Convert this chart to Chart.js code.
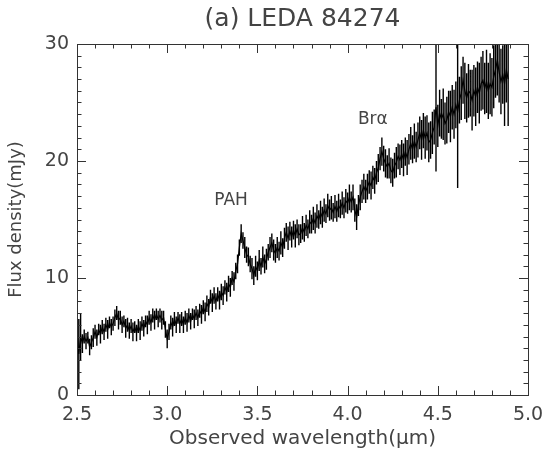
<!DOCTYPE html>
<html>
<head>
<meta charset="utf-8">
<script src="https://cdn.jsdelivr.net/npm/chart.js@4.4.1/dist/chart.umd.min.js"></script>
<style>
  html,body{margin:0;padding:0;background:#fff;}
  #wrap{width:545px;height:455px;}
</style>
</head>
<body>
<div id="wrap"><canvas id="c" width="545" height="455"></canvas></div>
<script>
// ---- data ----
const wavelengthStart = 2.50;   // first sample (micron)
const wavelengthStep = 0.01;    // sample spacing (micron)
const flux = [
  5.5, 3.5, 5.0, 4.4, 5.0, 4.6, 4.9, 4.1, 4.5, 4.9,
  5.4, 4.9, 5.6, 5.2, 5.8, 5.4, 6.0, 5.6, 6.2, 5.8,
  6.1, 6.6, 7.0, 6.4, 6.6, 6.0, 6.3, 5.7, 6.0, 5.5,
  5.9, 5.4, 5.8, 5.3, 5.9, 5.5, 6.1, 5.7, 6.3, 6.0,
  6.6, 6.2, 6.8, 6.4, 6.9, 6.5, 6.8, 6.4, 6.6, 5.6,
  4.8, 5.4, 6.2, 5.8, 6.5, 6.0, 6.6, 6.1, 6.5, 6.0,
  6.6, 6.2, 6.8, 6.3, 6.9, 6.5, 7.0, 6.6, 7.2, 6.9,
  7.5, 7.1, 7.8, 7.5, 8.4, 7.9, 8.5, 8.0, 8.6, 8.1,
  8.8, 8.5, 9.2, 8.8, 9.5, 9.2, 10.0, 9.7, 10.6, 11.2,
  12.6, 13.8, 13.2, 12.6, 12.0, 11.8, 11.2, 10.8, 10.2, 11.0,
  10.6, 11.5, 11.0, 11.8, 11.2, 11.6, 12.2, 12.6, 13.0, 12.4,
  12.1, 12.6, 12.3, 13.0, 12.6, 13.4, 13.9, 13.4, 14.0, 13.5,
  14.1, 13.6, 14.2, 13.7, 13.8, 14.3, 13.9, 14.5, 14.2, 14.8,
  14.6, 15.1, 14.7, 15.3, 15.0, 15.6, 15.2, 15.8, 15.5, 16.2,
  15.8, 16.0, 15.6, 16.1, 15.7, 16.2, 15.9, 16.4, 16.0, 16.6,
  16.4, 16.9, 16.5, 16.9, 15.8, 15.2, 16.2, 16.9, 17.4, 17.8,
  17.4, 17.8, 18.2, 17.9, 18.6, 18.3, 19.0, 19.4, 20.2, 20.8,
  20.2, 19.8, 19.5, 19.8, 19.2, 19.0, 19.6, 19.9, 20.4, 20.1,
  20.6, 20.1, 20.8, 20.3, 21.0, 21.5, 21.0, 21.7, 21.2, 21.8,
  22.4, 21.8, 22.6, 22.0, 22.4, 21.6, 21.8, 22.4, 22.9, 24.6,
  23.0, 24.1, 23.6, 24.0, 23.2, 23.5, 24.2, 23.8, 24.6, 24.0,
  24.8, 24.2, 25.2, 25.8, 26.9, 26.0, 25.4, 26.0, 25.8, 25.2,
  26.0, 25.5, 26.3, 25.8, 26.6, 26.9, 26.2, 26.8, 26.0, 26.6,
  26.3, 27.2, 27.8, 28.6, 27.6, 26.8, 27.4, 26.6, 27.8, 27.0
];
const fluxErr = [
  6.0, 3.0, 2.0, 0.8, 0.6, 0.7, 0.5, 0.7, 0.6, 0.8,
  0.6, 0.7, 0.5, 0.8, 0.6, 0.7, 0.6, 0.8, 0.5, 0.7,
  0.6, 0.7, 0.6, 0.8, 0.6, 0.7, 0.5, 0.8, 0.6, 0.7,
  0.6, 0.8, 0.5, 0.7, 0.6, 0.8, 0.6, 0.7, 0.5, 0.8,
  0.6, 0.7, 0.6, 0.8, 0.5, 0.7, 0.6, 0.8, 0.6, 0.7,
  0.8, 0.7, 0.6, 0.8, 0.6, 0.7, 0.5, 0.8, 0.6, 0.7,
  0.6, 0.8, 0.6, 0.7, 0.5, 0.8, 0.6, 0.7, 0.6, 0.8,
  0.6, 0.8, 0.7, 0.7, 0.6, 0.8, 0.7, 0.7, 0.6, 0.8,
  0.7, 0.8, 0.6, 0.8, 0.7, 0.8, 0.6, 0.8, 0.7, 0.8,
  0.7, 0.8, 0.7, 0.9, 0.7, 0.8, 0.7, 0.9, 0.8, 0.9,
  0.8, 0.9, 0.7, 0.9, 0.8, 0.9, 0.7, 0.9, 0.8, 0.9,
  0.8, 0.9, 0.8, 1.0, 0.8, 0.9, 0.8, 1.0, 0.8, 0.9,
  0.8, 1.0, 0.8, 0.9, 0.8, 1.0, 0.8, 0.9, 0.8, 1.0,
  0.8, 1.0, 0.9, 1.0, 0.8, 1.0, 0.9, 1.0, 0.8, 1.0,
  0.9, 1.0, 0.8, 1.0, 0.9, 1.0, 0.8, 1.0, 0.9, 1.0,
  0.9, 1.1, 0.9, 1.1, 1.0, 1.1, 0.9, 1.1, 1.0, 1.1,
  1.0, 1.1, 1.0, 1.2, 1.0, 1.1, 1.0, 1.2, 1.0, 1.2,
  1.1, 1.2, 1.0, 1.3, 1.1, 1.2, 1.1, 1.3, 1.1, 1.3,
  1.2, 1.4, 1.2, 1.5, 1.3, 1.4, 1.2, 1.5, 1.3, 1.5,
  1.4, 1.7, 1.5, 1.8, 1.5, 1.7, 1.6, 1.8, 1.5, 5.5,
  1.8, 2.0, 1.7, 2.2, 1.8, 2.0, 1.8, 2.2, 1.9, 2.1,
  2.0, 6.5, 2.0, 2.3, 2.0, 2.4, 2.1, 2.3, 2.0, 2.6,
  2.2, 2.5, 2.2, 2.6, 2.3, 2.5, 2.2, 2.7, 2.4, 2.6,
  2.5, 2.7, 2.4, 3.0, 2.6, 2.8, 2.5, 3.6, 2.8, 4.0
];
const wavelength = flux.map((_, i) => +(wavelengthStart + i * wavelengthStep).toFixed(2));
const xTickValues = [2.5, 3.0, 3.5, 4.0, 4.5, 5.0];
const yTickValues = [0, 10, 20, 30];
const featureLabels = ['PAH', 'Br\u03B1'];
const featureX = [3.354, 4.14];
const featureY = [16.6, 23.5];

// ---- plugins ----
const errorBars = {
  id: 'errorBars',
  afterDatasetsDraw(chart) {
    const {ctx, chartArea: a, scales: {x, y}} = chart;
    ctx.save();
    ctx.beginPath();
    ctx.rect(a.left, a.top, a.right - a.left, a.bottom - a.top);
    ctx.clip();
    ctx.strokeStyle = '#000';
    ctx.lineWidth = 1.4;
    ctx.beginPath();
    for (let i = 0; i < flux.length; i++) {
      const px = x.getPixelForValue(wavelength[i]);
      ctx.moveTo(px, y.getPixelForValue(flux[i] - fluxErr[i]));
      ctx.lineTo(px, y.getPixelForValue(flux[i] + fluxErr[i]));
    }
    ctx.stroke();
    ctx.restore();
  }
};

const frame = {
  id: 'frame',
  afterDraw(chart) {
    const {ctx, chartArea: a, scales: {x, y}} = chart;
    ctx.save();
    ctx.strokeStyle = '#333';
    ctx.lineWidth = 1;
    ctx.beginPath();
    for (let k = 0; k <= 25; k++) {
      const v = 2.5 + k * 0.1;
      const px = Math.round(x.getPixelForValue(v)) + 0.5;
      const len = (k % 5 === 0) ? 9 : 4.5;
      ctx.moveTo(px, a.bottom); ctx.lineTo(px, a.bottom - len);
      ctx.moveTo(px, a.top); ctx.lineTo(px, a.top + len);
    }
    for (let k = 0; k <= 30; k++) {
      const py = Math.round(y.getPixelForValue(k)) + 0.5;
      const len = (k % 10 === 0) ? 9 : 4.5;
      ctx.moveTo(a.left, py); ctx.lineTo(a.left + len, py);
      ctx.moveTo(a.right, py); ctx.lineTo(a.right - len, py);
    }
    ctx.stroke();
    ctx.strokeRect(Math.round(a.left) + 0.5, Math.round(a.top) + 0.5,
                   Math.round(a.right - a.left), Math.round(a.bottom - a.top));
    ctx.fillStyle = '#444';
    ctx.font = '17px "DejaVu Sans"';
    ctx.textAlign = 'center';
    ctx.textBaseline = 'middle';
    for (let i = 0; i < featureLabels.length; i++) {
      ctx.fillText(featureLabels[i], x.getPixelForValue(featureX[i]), y.getPixelForValue(featureY[i]));
    }
    ctx.restore();
  }
};

new Chart(document.getElementById('c'), {
  type: 'line',
  data: {
    datasets: [{
      data: wavelength.map((w, i) => ({x: w, y: flux[i]})),
      borderColor: '#000',
      borderWidth: 1.2,
      pointRadius: 0,
      tension: 0,
      fill: false
    }]
  },
  options: {
    responsive: false,
    animation: false,
    devicePixelRatio: 1,
    layout: {padding: {left: 0, right: 17, top: 0, bottom: 0}},
    plugins: {
      legend: {display: false},
      tooltip: {enabled: false},
      title: {
        display: true,
        text: '(a) LEDA 84274',
        fullSize: false,
        color: '#444',
        font: {family: 'DejaVu Sans', size: 25, weight: 'normal', lineHeight: 1.2},
        padding: {top: 4, bottom: 10}
      }
    },
    scales: {
      x: {
        type: 'linear',
        min: 2.5, max: 5.0,
        afterBuildTicks(s) { s.ticks = xTickValues.map(v => ({value: v})); },
        afterFit(s) { s.height = 60; s.paddingLeft = 0; s.paddingRight = 0; },
        grid: {display: false, drawTicks: false},
        border: {display: false},
        ticks: {
          color: '#444', padding: 9, maxRotation: 0, autoSkip: false,
          font: {family: 'DejaVu Sans', size: 19},
          callback: v => Number(v).toFixed(1)
        },
        title: {
          display: true, text: 'Observed wavelength(\u03BCm)', color: '#444',
          font: {family: 'DejaVu Sans', size: 20}, padding: {top: 0, bottom: 4}
        }
      },
      y: {
        min: 0, max: 30,
        afterBuildTicks(s) { s.ticks = yTickValues.map(v => ({value: v})); },
        afterFit(s) { s.width = 77; s.paddingTop = 0; s.paddingBottom = 0; },
        grid: {display: false, drawTicks: false},
        border: {display: false},
        ticks: {
          color: '#444', padding: 8, autoSkip: false,
          font: {family: 'DejaVu Sans', size: 19}
        },
        title: {
          display: true, text: 'Flux density(mJy)', color: '#444',
          font: {family: 'DejaVu Sans', size: 18}, padding: {top: 6, bottom: 0}
        }
      }
    }
  },
  plugins: [errorBars, frame]
});
</script>
</body>
</html>
